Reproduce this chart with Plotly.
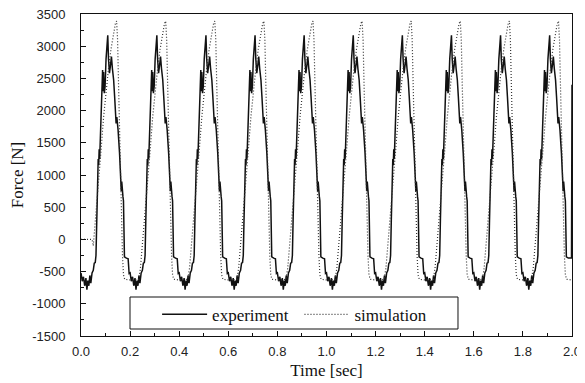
import plotly.graph_objects as go

# ---- data ----
cycle_starts = [0.0, 0.2, 0.4, 0.6, 0.8, 1.0, 1.2, 1.4, 1.6, 1.8]

# experiment: one measured cycle (time within cycle [s], force [N])
exp_tau = [0.000, 0.005, 0.010, 0.015, 0.020, 0.024, 0.028, 0.032, 0.036, 0.040,
           0.045, 0.050, 0.054, 0.058, 0.061, 0.064, 0.067, 0.070, 0.072, 0.074,
           0.076, 0.079, 0.082, 0.085, 0.088, 0.090, 0.092, 0.095, 0.098, 0.102,
           0.106, 0.109, 0.112, 0.116, 0.120, 0.124, 0.128, 0.133, 0.137, 0.140,
           0.143, 0.146, 0.148, 0.151, 0.157, 0.162, 0.164, 0.166, 0.168, 0.171,
           0.173, 0.175, 0.177, 0.185, 0.192, 0.196]
exp_val = [-520, -650, -580, -720, -600, -780, -640, -720, -560, -680,
           -520, -480, -370, -360, -250, 300, 1000, 1250, 1150, 1400,
           1250, 1700, 2010, 2300, 2630, 2300, 2600, 2270, 2370, 2800,
           3000, 3170, 2800, 2580, 2700, 2840, 2650, 2475, 2220, 1950,
           1800, 1900, 1750, 1700, 1340, 950, 750, 900, 700, 660,
           600, 0, -270, -290, -300, -530]
exp_tail_t = [1.998, 2.0]
exp_tail_v = [-290, 2400]

# simulation: one cycle
sim_tau = [0.000, 0.035, 0.042, 0.050, 0.058, 0.065, 0.072, 0.082, 0.092, 0.102,
           0.112, 0.122, 0.132, 0.140, 0.145, 0.149, 0.153, 0.157, 0.161, 0.165,
           0.169, 0.173, 0.178]
sim_val = [-630, -620, -450, -100, 250, 570, 975, 1400, 1900, 2300,
           2650, 2950, 3200, 3350, 3390, 3100, 2400, 1600, 900, 300,
           -250, -550, -620]
sim_lead_t = [0.0, 0.045]
sim_lead_v = [0, 0]

x_ticks = [0.0, 0.2, 0.4, 0.6, 0.8, 1.0, 1.2, 1.4, 1.6, 1.8, 2.0]
x_labels = ["0.0", "0.2", "0.4", "0.6", "0.8", "1.0", "1.2", "1.4", "1.6", "1.8", "2.0"]
y_ticks = [-1500, -1000, -500, 0, 500, 1000, 1500, 2000, 2500, 3000, 3500]
y_labels = ["-1500", "-1000", "-500", "0", "500", "1000", "1500", "2000", "2500", "3000", "3500"]

assert len(exp_tau) == len(exp_val) and len(sim_tau) == len(sim_val)

# ---- build series ----
exp_t, exp_f = [], []
for i, c in enumerate(cycle_starts):
    last = i == len(cycle_starts) - 1
    for tau, v in zip(exp_tau, exp_val):
        if last and tau > 0.190:
            continue
        exp_t.append(round(c + tau, 4))
        exp_f.append(v)
exp_t += exp_tail_t
exp_f += exp_tail_v

sim_t, sim_f = list(sim_lead_t), list(sim_lead_v)
for i, c in enumerate(cycle_starts):
    for tau, v in zip(sim_tau, sim_val):
        if i == 0 and tau < 0.05:
            continue
        sim_t.append(round(c + tau, 4))
        sim_f.append(v)
sim_t.append(2.0)
sim_f.append(-630)

fig = go.Figure()
fig.add_trace(go.Scatter(x=exp_t, y=exp_f, mode="lines", name="experiment",
                         legend="legend",
                         line=dict(color="#111111", width=1.5)))
fig.add_trace(go.Scatter(x=sim_t, y=sim_f, mode="lines", name="simulation",
                         legend="legend2",
                         line=dict(color="#333333", width=1.2, dash="1px,2px")))

tick_font = dict(family="Liberation Sans", size=13, color="#222222")
title_font = dict(family="Liberation Serif", size=17, color="#111111")
legend_font = dict(family="Liberation Serif", size=17, color="#111111")

# legend frame drawn as a box in plot-area coordinates
fig.add_shape(type="rect", xref="paper", yref="paper",
              x0=0.0998, x1=0.7678, y0=0.0217, y1=0.1211,
              line=dict(color="#111111", width=1), fillcolor="white", layer="above")

# the page body adds an 8px offset, so the margins are reduced by it
fig.update_layout(
    width=585, height=383,
    margin=dict(l=73, r=21, t=6, b=55),
    paper_bgcolor="white", plot_bgcolor="white",
    showlegend=True,
    legend=dict(orientation="h", x=0.1, y=0.01, xanchor="left", yanchor="bottom",
                bgcolor="rgba(0,0,0,0)", borderwidth=0, font=legend_font,
                itemwidth=45, indentation=27),
    legend2=dict(orientation="h", x=0.39, y=0.01, xanchor="left", yanchor="bottom",
                 bgcolor="rgba(0,0,0,0)", borderwidth=0, font=legend_font,
                 itemwidth=45, indentation=27),
)
fig.update_xaxes(range=[0, 2.0], tickvals=x_ticks, ticktext=x_labels,
                 ticks="inside", ticklen=5, tickwidth=1, tickcolor="#111111",
                 minor=dict(dtick=0.1, ticks="inside", ticklen=3, tickcolor="#111111"),
                 showline=True, linecolor="#111111", linewidth=1, mirror=True,
                 showgrid=False, zeroline=False, tickfont=tick_font, automargin=False,
                 ticklabelstandoff=3, ticklabeloverflow="allow",
                 title=dict(text="Time [sec]", font=title_font, standoff=6))
fig.update_yaxes(range=[-1500, 3500], tickvals=y_ticks, ticktext=y_labels,
                 ticks="inside", ticklen=5, tickwidth=1, tickcolor="#111111",
                 minor=dict(dtick=250, ticks="inside", ticklen=3, tickcolor="#111111"),
                 showline=True, linecolor="#111111", linewidth=1, mirror=True,
                 showgrid=False, zeroline=False, tickfont=tick_font, automargin=False,
                 ticklabelstandoff=12, ticklabeloverflow="allow",
                 title=dict(text="Force [N]", font=title_font, standoff=4))

fig.write_html("out.html")
